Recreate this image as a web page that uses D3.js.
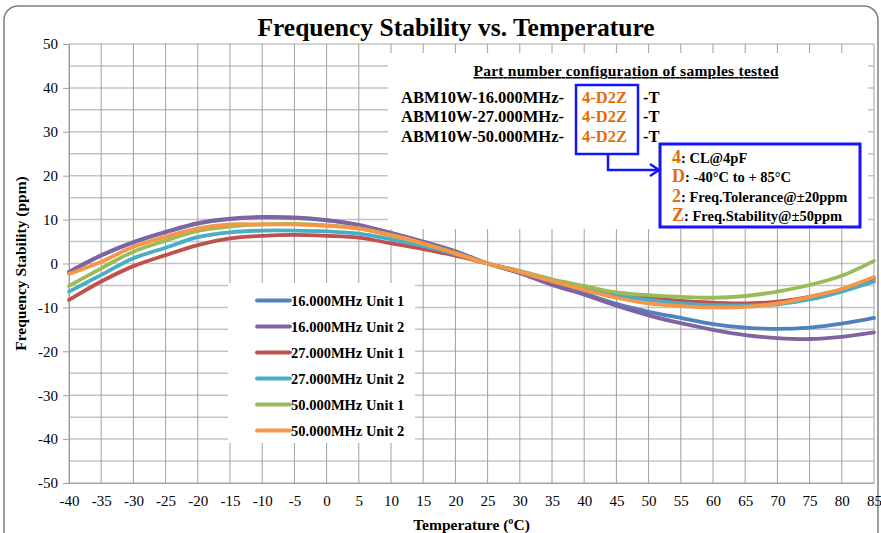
<!DOCTYPE html>
<html>
<head>
<meta charset="utf-8">
<script src="https://cdn.jsdelivr.net/npm/d3@7"></script>
<style>
  html, body { margin: 0; padding: 0; background: #ffffff; }
  svg { display: block; }
  text { font-family: "Liberation Serif", "Times New Roman", serif; }
</style>
</head>
<body>
<svg id="chart" width="881" height="533"></svg>
<script>
// Temperature sweep (°C) and measured frequency deviation (ppm) per unit
const temperatures = [-40, -35, -30, -25, -20, -15, -10, -5, 0, 5, 10, 15, 20, 25, 30, 35, 40, 45, 50, 55, 60, 65, 70, 75, 80, 85];

const mhz16Unit1 = [-2.0, 1.8, 4.8, 7.1, 9.1, 10.1, 10.5, 10.4, 9.8, 8.7, 6.9, 4.9, 2.7, 0, -2.1, -4.5, -6.8, -9.2, -11.0, -12.4, -13.8, -14.6, -14.9, -14.6, -13.7, -12.4];
const mhz16Unit2 = [-1.9, 1.9, 4.9, 7.2, 9.2, 10.2, 10.6, 10.5, 9.9, 8.8, 7.0, 5.0, 2.8, 0, -2.2, -4.9, -7.1, -9.6, -11.8, -13.6, -15.1, -16.3, -17.0, -17.2, -16.7, -15.7];
const mhz27Unit1 = [-8.3, -4.1, -0.6, 1.9, 4.2, 5.7, 6.3, 6.5, 6.3, 5.9, 4.6, 3.3, 1.8, 0, -1.8, -3.9, -5.3, -7.0, -7.8, -8.5, -8.9, -9.1, -8.7, -7.6, -5.9, -3.3];
const mhz27Unit2 = [-6.4, -2.6, 1.2, 3.6, 6.0, 7.1, 7.5, 7.5, 7.3, 6.8, 5.5, 4.0, 2.1, 0, -1.9, -4.0, -5.4, -7.2, -8.3, -9.1, -9.5, -9.6, -9.3, -8.2, -6.4, -4.1];
const mhz50Unit1 = [-5.1, -1.1, 2.7, 5.2, 7.4, 8.4, 8.9, 9.0, 8.7, 8.0, 6.4, 4.5, 2.4, 0, -1.7, -3.6, -5.1, -6.6, -7.2, -7.6, -7.8, -7.4, -6.4, -4.9, -2.8, 0.6];
const mhz50Unit2 = [-2.4, 0.4, 3.8, 6.1, 8.0, 8.9, 8.9, 8.9, 8.6, 8.0, 6.5, 4.6, 2.3, 0, -1.9, -4.0, -6.0, -7.8, -9.1, -9.7, -10.0, -9.9, -9.1, -7.6, -5.8, -3.1];

const seriesNames = ["16.000MHz Unit 1", "16.000MHz Unit 2", "27.000MHz Unit 1", "27.000MHz Unit 2", "50.000MHz Unit 1", "50.000MHz Unit 2"];
const seriesValues = [mhz16Unit1, mhz16Unit2, mhz27Unit1, mhz27Unit2, mhz50Unit1, mhz50Unit2];
const seriesColors = ["#4F81BD", "#8064A2", "#C0504D", "#4BACC6", "#9BBB59", "#F79646"];

const yTickValues = [50, 40, 30, 20, 10, 0, -10, -20, -30, -40, -50];
const yGridValues = [45, 35, 25, 15, 5, -5, -15, -25, -35, -45];

const partNumbers = ["ABM10W-16.000MHz-", "ABM10W-27.000MHz-", "ABM10W-50.000MHz-"];
const optionCode = "4-D2Z";
const codeMeaning = [
  ["4", ": CL@4pF"],
  ["D", ": -40°C to + 85°C"],
  ["2", ": Freq.Tolerance@±20ppm"],
  ["Z", ": Freq.Stability@±50ppm"]
];

const svg = d3.select("#chart");
const plot = { left: 69, right: 874, top: 44, bottom: 483 };

const x = d3.scaleLinear().domain([-40, 85]).range([plot.left, plot.right]);
const y = d3.scaleLinear().domain([-50, 50]).range([plot.bottom, plot.top]);

// plain hyphen-minus for negative tick labels
const plainNumber = d => String(d);

// outer chart frame
svg.append("rect")
  .attr("x", 4).attr("y", 6).attr("width", 874).attr("height", 545)
  .attr("rx", 14).attr("ry", 14)
  .attr("fill", "#ffffff").attr("stroke", "#808080").attr("stroke-width", 1.5);

// title
svg.append("text")
  .attr("x", 456).attr("y", 36)
  .attr("text-anchor", "middle")
  .attr("font-size", 25.5).attr("font-weight", "bold")
  .attr("fill", "#000")
  .text("Frequency Stability vs. Temperature");

// gridlines
const grid = svg.append("g");
grid.selectAll("line.hg").data(yGridValues.concat(yTickValues)).join("line")
  .attr("x1", plot.left).attr("x2", plot.right)
  .attr("y1", d => y(d)).attr("y2", d => y(d))
  .attr("stroke", "#c4c4c4").attr("stroke-width", 1.5);
grid.selectAll("line.vg").data(temperatures).join("line")
  .attr("x1", d => x(d)).attr("x2", d => x(d))
  .attr("y1", plot.top).attr("y2", plot.bottom)
  .attr("stroke", "#a0a0a0").attr("stroke-width", 1);

// axes
const yAxis = svg.append("g")
  .attr("transform", `translate(${plot.left},0)`)
  .call(d3.axisLeft(y).tickValues(yTickValues).tickSize(6).tickPadding(5).tickFormat(plainNumber));
yAxis.select(".domain").attr("stroke", "#a0a0a0");
yAxis.selectAll(".tick line").attr("stroke", "#a0a0a0");
yAxis.selectAll(".tick text")
  .attr("font-family", "Liberation Serif, serif").attr("font-size", 15).attr("fill", "#000");

const xAxis = svg.append("g")
  .attr("transform", `translate(0,${plot.bottom})`)
  .call(d3.axisBottom(x).tickValues(temperatures).tickSize(0).tickPadding(12).tickFormat(plainNumber));
xAxis.select(".domain").attr("stroke", "#a0a0a0");
xAxis.selectAll(".tick text")
  .attr("font-family", "Liberation Serif, serif").attr("font-size", 15).attr("fill", "#000");

// axis titles
svg.append("text")
  .attr("transform", `translate(26,${(plot.top + plot.bottom) / 2}) rotate(-90)`)
  .attr("text-anchor", "middle")
  .attr("font-size", 15.5).attr("font-weight", "bold")
  .text("Frequency Stability (ppm)");
svg.append("text")
  .attr("x", (plot.left + plot.right) / 2).attr("y", 530)
  .attr("text-anchor", "middle")
  .attr("font-size", 15.5).attr("font-weight", "bold")
  .text("Temperature (ºC)");

// part number panel
const panel = svg.append("g");
panel.append("rect")
  .attr("x", 388).attr("y", 53).attr("width", 480).attr("height", 176)
  .attr("fill", "#ffffff");
panel.append("text")
  .attr("x", 626).attr("y", 76)
  .attr("text-anchor", "middle")
  .attr("font-size", 15.5).attr("font-weight", "bold")
  .attr("text-decoration", "underline")
  .attr("textLength", 305).attr("lengthAdjust", "spacing")
  .text("Part number configuration of samples tested");

partNumbers.forEach((pn, i) => {
  const t = panel.append("text")
    .attr("y", 103 + i * 19.3)
    .attr("font-size", 16.5).attr("font-weight", "bold");
  t.append("tspan").attr("x", 401).attr("fill", "#000").text(pn);
  t.append("tspan").attr("x", 582).attr("fill", "#E46C0A").text(optionCode);
  t.append("tspan").attr("x", 643).attr("fill", "#000").text("-T");
});

// highlight box around the option code and its connector
panel.append("rect")
  .attr("x", 576).attr("y", 85).attr("width", 62).attr("height", 69)
  .attr("fill", "none").attr("stroke", "#1414ff").attr("stroke-width", 2.5);
panel.append("path")
  .attr("d", "M608,154 V170 H658")
  .attr("fill", "none").attr("stroke", "#1414ff").attr("stroke-width", 2.5);
panel.append("path")
  .attr("d", "M650,164 L659,170 L650,176")
  .attr("fill", "none").attr("stroke", "#1414ff").attr("stroke-width", 2.5);

// option code legend box
panel.append("rect")
  .attr("x", 660).attr("y", 144).attr("width", 200).attr("height", 83)
  .attr("fill", "#ffffff").attr("stroke", "#1414ff").attr("stroke-width", 3);
codeMeaning.forEach((row, i) => {
  const t = panel.append("text")
    .attr("x", 672).attr("y", 163 + i * 19.3)
    .attr("font-weight", "bold");
  t.append("tspan").attr("fill", "#E46C0A").attr("font-size", 18).text(row[0]);
  t.append("tspan").attr("fill", "#000").attr("font-size", 14.5).text(row[1]);
});

// data curves
const line = d3.line()
  .x((d, i) => x(temperatures[i]))
  .y(d => y(d))
  .curve(d3.curveCatmullRom.alpha(0.5));

svg.append("g").selectAll("path").data(seriesValues).join("path")
  .attr("d", d => line(d))
  .attr("fill", "none")
  .attr("stroke", (d, i) => seriesColors[i])
  .attr("stroke-width", 3.8)
  .attr("stroke-linejoin", "round")
  .attr("stroke-linecap", "round");

// series legend
const legend = svg.append("g");
legend.append("rect")
  .attr("x", 228).attr("y", 283).attr("width", 187).attr("height", 160)
  .attr("fill", "#ffffff");
const rows = legend.selectAll("g.row").data(seriesNames).join("g")
  .attr("transform", (d, i) => `translate(0,${300.5 + i * 26})`);
rows.append("line")
  .attr("x1", 257).attr("x2", 290).attr("y1", 0).attr("y2", 0)
  .attr("stroke", (d, i) => seriesColors[i]).attr("stroke-width", 3.8)
  .attr("stroke-linecap", "round");
rows.append("text")
  .attr("x", 291).attr("y", 5)
  .attr("font-size", 14.5).attr("font-weight", "bold")
  .text(d => d);
</script>
</body>
</html>
